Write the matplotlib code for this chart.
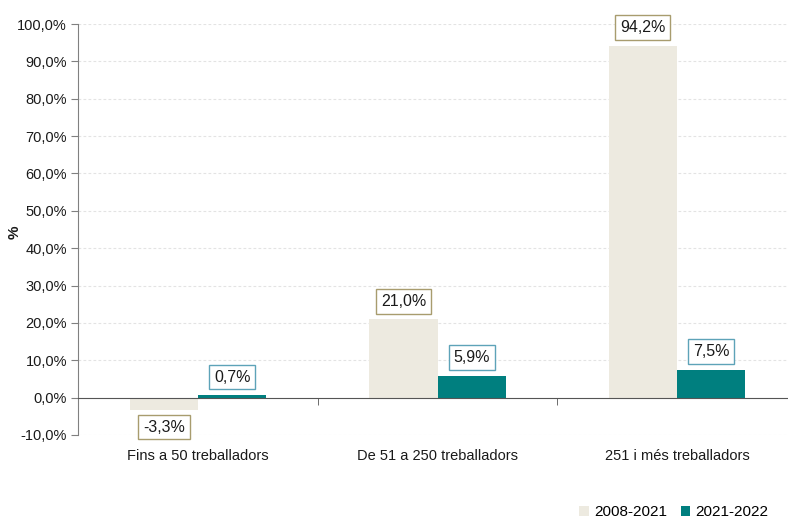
import matplotlib
matplotlib.use("Agg")
import matplotlib.pyplot as plt
import numpy as np

categories = ["Fins a 50 treballadors", "De 51 a 250 treballadors", "251 i més treballadors"]
series_names = ["2008-2021", "2021-2022"]
vals_2008_2021 = [-3.3, 21.0, 94.2]
vals_2021_2022 = [0.7, 5.9, 7.5]
y_ticks = list(range(-10, 101, 10))

plt.rcParams['font.family'] = ['Liberation Sans', 'DejaVu Sans']

beige = '#EDEAE0'
teal = '#007F7F'
beige_edge = '#A89C6E'
teal_edge = '#5DA3B8'

W, H = 788, 519
fig = plt.figure(figsize=(W / 100, H / 100), dpi=100)
ax = fig.add_axes([78 / W, 1 - 435 / H, 710 / W, 411 / H])

x = np.arange(len(categories))
w = 0.285
b1 = ax.bar(x - w / 2, vals_2008_2021, w, color=beige, label=series_names[0], zorder=2)
b2 = ax.bar(x + w / 2, vals_2021_2022, w, color=teal, label=series_names[1], zorder=2)

def fmt(v):
    return f"{v:.1f}%".replace('.', ',')

for bars, vals, ec in [(b1, vals_2008_2021, beige_edge), (b2, vals_2021_2022, teal_edge)]:
    for rect, v in zip(bars, vals):
        cx = rect.get_x() + rect.get_width() / 2
        if v >= 0:
            ax.annotate(fmt(v), (cx, v), xytext=(0, 7.5), textcoords='offset points',
                        ha='center', va='bottom', fontsize=11.5, color='#1a1a1a', zorder=4,
                        bbox=dict(boxstyle='square,pad=0.3', fc='white', ec=ec, lw=1))
        else:
            ax.annotate(fmt(v), (cx, v), xytext=(0, -7), textcoords='offset points',
                        ha='center', va='top', fontsize=11.5, color='#1a1a1a', zorder=4,
                        bbox=dict(boxstyle='square,pad=0.3', fc='white', ec=ec, lw=1))

ax.set_xlim(-0.501, 2.463)
ax.set_ylim(-10, 100)
ax.set_yticks(y_ticks)
ax.set_yticklabels([fmt(t) for t in y_ticks], fontsize=10.5, color='#1a1a1a')
for t in y_ticks:
    if t != 0:
        ax.axhline(t, color='#E3E3E3', lw=0.8, ls=(0, (2.5, 2)), zorder=1)

ax.spines['top'].set_visible(False)
ax.spines['right'].set_visible(False)
ax.spines['left'].set_color('#808080')
ax.spines['bottom'].set_position(('data', 0))
ax.spines['bottom'].set_color('#555555')
ax.spines['bottom'].set_zorder(3)

ax.set_xticks(x)
ax.set_xticklabels(categories, fontsize=10.5, color='#1a1a1a')
ax.set_xticks([0.5, 1.5], minor=True)
ax.tick_params(axis='x', which='major', length=0, pad=37)
ax.tick_params(axis='x', which='minor', length=5, color='#555555', direction='out')
ax.tick_params(axis='y', length=5, color='#808080', direction='out', pad=3)

fig.text(15 / W, 1 - 232 / H, '%', rotation=90, ha='center', va='center',
         fontsize=11, fontweight='bold', color='#1a1a1a')

fig.legend(handles=[b1, b2], labels=series_names, loc='lower right',
           bbox_to_anchor=(782 / W, -14 / H), ncol=2, frameon=False, fontsize=11,
           handlelength=0.6, handleheight=0.6, handletextpad=0.35, columnspacing=0.9)

fig.savefig('out.png', dpi=100)
